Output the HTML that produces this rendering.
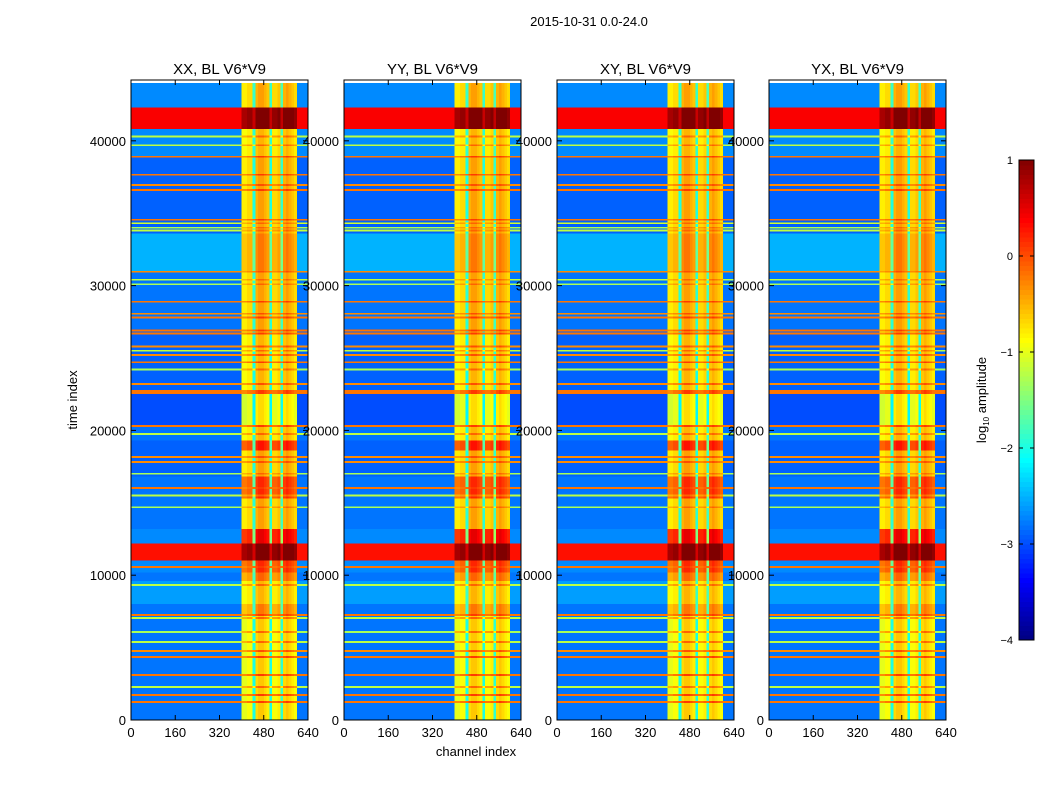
<!DOCTYPE html>
<html><head><meta charset="utf-8">
<style>
html,body{margin:0;padding:0;background:#fff;}
svg text{font-family:"Liberation Sans",sans-serif;fill:#000;}
</style></head>
<body>
<svg id="chart" width="1050" height="800" viewBox="0 0 1050 800" xmlns="http://www.w3.org/2000/svg">
<rect width="1050" height="800" fill="#fff"/>
<text x="589" y="26" font-size="13" text-anchor="middle">2015-10-31 0.0-24.0</text>
<text x="0" y="0" font-size="13" text-anchor="middle" transform="translate(77,400) rotate(-90)">time index</text>
<text x="476" y="756" font-size="13" text-anchor="middle">channel index</text>
<g id="panels"></g>
<g id="cbar"></g>
</svg>
<script>
// ---- data ----
const panelTitles = ["XX, BL V6*V9", "YY, BL V6*V9", "XY, BL V6*V9", "YX, BL V6*V9"];
const xTicks = [0, 160, 320, 480, 640];
const yTicks = [0, 10000, 20000, 30000, 40000];
const cbTicks = [-4, -3, -2, -1, 0, 1];
// time bands: start, end, value outside RFI columns, value inside RFI columns (log10 amp)
const bandStart = [42300, 40800, 38900, 33600, 31000, 27000, 22800, 22500, 20300, 19300, 18600, 16800, 15300, 13200, 12200, 11000, 10200, 9600, 8000, 7300, 0];
const bandEnd   = [44000, 42300, 40800, 38900, 33600, 31000, 27000, 22800, 22500, 20300, 19300, 18600, 16800, 15300, 13200, 12200, 11000, 10200, 9600, 8000, 7300];
const bandOut   = [-2.7, 0.4, -2.7, -2.9, -2.5, -2.8, -2.9, -0.2, -3.0, -2.8, -2.9, -2.9, -2.8, -2.8, -2.7, 0.3, -2.7, -2.8, -2.6, -2.8, -2.8];
const bandIn    = [-0.6, 1.0, -0.7, -0.6, -0.4, -0.6, -0.7, -0.1, -0.9, -0.7, 0.1, -0.6, 0.0, -0.6, 0.3, 1.0, 0.0, -0.3, -0.7, -0.4, -0.8];
// thin horizontal RFI lines
const lineT = [38900, 37650, 36950, 36600, 34540, 30950, 28880, 28050, 27800, 26900, 26700, 25800, 25200, 24700, 23200, 20310, 18170, 17820, 16030, 10570, 7250, 4770, 4350, 3110, 1730, 1240,
               40300, 39700, 34300, 34000, 33800, 30400, 30100, 25500, 24200, 19760, 17000, 15500, 14700, 9330, 7050, 6080, 5390, 2280];
const lineV = [-0.2, -0.2, -0.3, -0.2, -0.2, -0.3, -0.2, -0.3, -0.2, -0.2, -0.2, -0.3, -0.3, -0.2, -0.3, -0.2, -0.3, -0.3, -0.2, -0.2, -0.2, -0.3, -0.2, -0.2, -0.2, -0.2,
               -1.2, -1.2, -1.1, -1.3, -1.2, -1.2, -1.3, -1.2, -1.3, -1.2, -1.3, -1.2, -1.3, -1.2, -1.2, -1.3, -1.2, -1.2];
// channel bins of 10: weight toward in-band value and in-band adjustment
const colW = [0,0,0,0,0,0,0,0,0,0, 0,0,0,0,0,0,0,0,0,0, 0,0,0,0,0,0,0,0,0,0, 0,0,0,0,0,0,0,0,0,0,
              1,1,1,1,0.4,1,1,1,1,1, 0.4,1,1,1,0.45,1,1,1,1,1, 0,0,0,0];
const colAdj = [0,0,0,0,0,0,0,0,0,0, 0,0,0,0,0,0,0,0,0,0, 0,0,0,0,0,0,0,0,0,0, 0,0,0,0,0,0,0,0,0,0,
               -0.2,-0.2,-0.1,-0.1,0,0.1,0.2,0.2,0.1,0, 0,-0.1,-0.1,0,0,0.1,0.2,0.1,0,-0.1, 0,0,0,0];

// ---- helpers ----
const NS = "http://www.w3.org/2000/svg";
function mk(tag, attrs, parent){const e=document.createElementNS(NS,tag);for(const k in attrs)e.setAttribute(k,attrs[k]);parent.appendChild(e);return e;}
function jet(v){ // v log10 amp, range -4..1
  let x=(v+4)/5; x=Math.max(0,Math.min(1,x));
  const f=t=>Math.max(0,Math.min(1,t));
  const r=f(Math.min(4*x-1.5,-4*x+4.5)), g=f(Math.min(4*x-0.5,-4*x+3.5)), b=f(Math.min(4*x+0.5,-4*x+2.5));
  return `rgb(${Math.round(r*255)},${Math.round(g*255)},${Math.round(b*255)})`;
}
const panelsG = document.getElementById("panels");
const panelX = [131, 344, 557, 769];
const PW = 177, PT = 80, PB = 720, TMAX = 44200;
panelTitles.forEach((title, p) => {
  const x0 = panelX[p];
  const xs = c => x0 + c / 640 * PW;
  const ys = t => PB - t / TMAX * (PB - PT);
  const g = mk("g", {}, panelsG);
  
  
  const cg = mk("g", {"shape-rendering":"crispEdges"}, g);
  const nb = colW.length;
  const drawRow = (t0, t1, vout, vin) => {
    for (let j = 0; j < nb; j++) {
      const v = vout + colW[j] * (vin + colAdj[j] - vout);
      const r = mk("rect", {x: xs(j*10), y: ys(t1), width: xs(j*10+10) - xs(j*10) + 0.3, height: Math.max(1.2, ys(t0) - ys(t1)), fill: jet(v)}, cg);
      
      
    }
  };
  for (let i = 0; i < bandStart.length; i++) drawRow(bandStart[i], bandEnd[i], bandOut[i], bandIn[i]);
  for (let i = 0; i < lineT.length; i++) drawRow(lineT[i] - 60, lineT[i] + 60, lineV[i], Math.max(lineV[i], -0.4) + 0.1);
  const fr = mk("rect", {x: x0, y: PT, width: PW, height: PB - PT, fill: "none", stroke: "#000", "stroke-width": 1}, g);
  
  
  const tt = mk("text", {x: x0 + PW/2, y: 74, "font-size": 15, "text-anchor": "middle"}, g);
  tt.textContent = title;
  
  
  xTicks.forEach(c => {
    const x = xs(c);
    mk("line", {x1: x, x2: x, y1: PB, y2: PB - 5, stroke: "#000"}, g);
    mk("line", {x1: x, x2: x, y1: PT, y2: PT + 5, stroke: "#000"}, g);
    const l = mk("text", {x: x, y: PB + 17, "font-size": 13, "text-anchor": "middle"}, g);
    l.textContent = c;
    
    
  });
  yTicks.forEach(t => {
    const y = ys(t);
    mk("line", {x1: x0, x2: x0 + 5, y1: y, y2: y, stroke: "#000"}, g);
    mk("line", {x1: x0 + PW, x2: x0 + PW - 5, y1: y, y2: y, stroke: "#000"}, g);
    const l = mk("text", {x: x0 - 5, y: y + 5, "font-size": 13, "text-anchor": "end"}, g);
    l.textContent = t;
    
    
  });
});
// colorbar
const cb = document.getElementById("cbar");
const CX = 1019, CW = 15, CT = 160, CB = 640;
const cv = v => CB - (v + 4) / 5 * (CB - CT);
for (let i = 0; i < 100; i++) {
  const v0 = -4 + i * 0.05;
  const r = mk("rect", {x: CX, y: cv(v0 + 0.05), width: CW, height: (CB - CT) / 100 + 0.5, fill: jet(v0 + 0.025), "shape-rendering": "crispEdges"}, cb);
  
  
}
mk("rect", {x: CX, y: CT, width: CW, height: CB - CT, fill: "none", stroke: "#000"}, cb);
cbTicks.forEach(v => {
  const y = cv(v);
  mk("line", {x1: CX, x2: CX + 4, y1: y, y2: y, stroke: "#000"}, cb);
  mk("line", {x1: CX + CW, x2: CX + CW - 4, y1: y, y2: y, stroke: "#000"}, cb);
  const l = mk("text", {x: CX - 6, y: y + 4, "font-size": 11, "text-anchor": "end"}, cb);
  l.textContent = v < 0 ? "\u2212" + Math.abs(v) : String(v);
  
  
});
const cl = mk("text", {"font-size": 13, "text-anchor": "middle", transform: "translate(986,400) rotate(-90)"}, cb);
cl.innerHTML = 'log<tspan font-size="8" dy="3">10</tspan><tspan dy="-3"> amplitude</tspan>';


</script>
</body></html>
